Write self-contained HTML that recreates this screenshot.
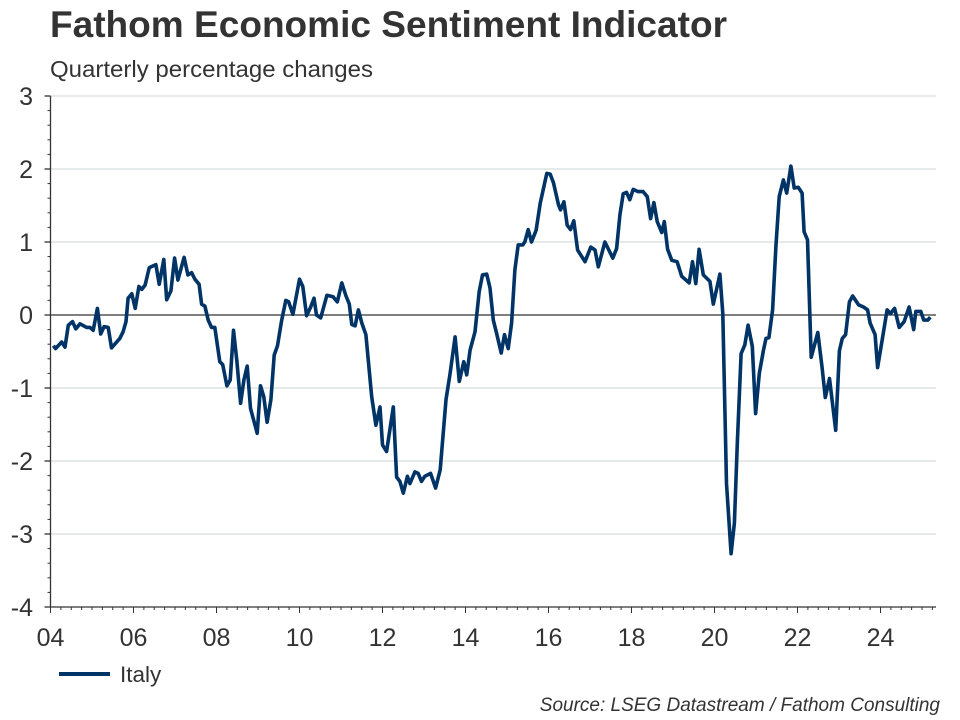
<!DOCTYPE html>
<html><head><meta charset="utf-8"><style>
body{margin:0;background:#fff;}
svg{display:block;font-family:"Liberation Sans",Arial,sans-serif;}
</style></head><body>
<svg width="960" height="720" viewBox="0 0 960 720">
<text x="50" y="37" font-size="37" font-weight="bold" fill="#333" textLength="677" lengthAdjust="spacingAndGlyphs">Fathom Economic Sentiment Indicator</text>
<text x="50" y="77" font-size="23" fill="#333" textLength="323" lengthAdjust="spacingAndGlyphs">Quarterly percentage changes</text>
<g id="grid"></g>
<g id="axes"></g>
<g id="series"></g>
<g>
<line x1="59" y1="674" x2="110" y2="674" stroke="#003366" stroke-width="4"/>
<text x="120" y="682" font-size="22.5" fill="#333">Italy</text>
</g>
<text x="940" y="711" font-size="19" font-style="italic" fill="#333" text-anchor="end">Source: LSEG Datastream / Fathom Consulting</text>
</svg>
<script>
const dates=[2004.07,2004.12,2004.27,2004.35,2004.43,2004.53,2004.61,2004.71,2004.87,2004.95,2005.03,2005.13,2005.21,2005.29,2005.39,2005.47,2005.67,2005.75,2005.82,2005.87,2005.96,2006.04,2006.13,2006.2,2006.28,2006.38,2006.54,2006.62,2006.73,2006.8,2006.9,2006.99,2007.07,2007.22,2007.31,2007.4,2007.48,2007.58,2007.64,2007.72,2007.8,2007.88,2007.96,2008.08,2008.15,2008.25,2008.33,2008.41,2008.49,2008.58,2008.66,2008.74,2008.82,2008.98,2009.06,2009.14,2009.22,2009.31,2009.39,2009.47,2009.57,2009.67,2009.74,2009.84,2010.0,2010.08,2010.17,2010.27,2010.35,2010.41,2010.51,2010.66,2010.81,2010.91,2011.02,2011.12,2011.2,2011.26,2011.34,2011.42,2011.5,2011.6,2011.74,2011.84,2011.94,2012.0,2012.1,2012.26,2012.34,2012.42,2012.5,2012.6,2012.66,2012.78,2012.86,2012.94,2013.02,2013.16,2013.28,2013.39,2013.53,2013.63,2013.75,2013.85,2013.96,2014.03,2014.11,2014.23,2014.33,2014.41,2014.51,2014.59,2014.67,2014.75,2014.86,2014.94,2015.03,2015.11,2015.19,2015.27,2015.38,2015.43,2015.51,2015.59,2015.7,2015.8,2015.96,2016.04,2016.12,2016.24,2016.29,2016.37,2016.45,2016.53,2016.61,2016.7,2016.88,2017.02,2017.12,2017.2,2017.36,2017.55,2017.64,2017.72,2017.8,2017.88,2017.96,2018.04,2018.16,2018.28,2018.38,2018.46,2018.54,2018.62,2018.73,2018.79,2018.87,2018.97,2019.1,2019.21,2019.39,2019.47,2019.55,2019.63,2019.73,2019.89,2019.97,2020.13,2020.2,2020.29,2020.4,2020.48,2020.55,2020.64,2020.73,2020.81,2020.91,2020.99,2021.08,2021.18,2021.24,2021.31,2021.4,2021.48,2021.56,2021.66,2021.74,2021.84,2021.92,2022.02,2022.11,2022.16,2022.24,2022.33,2022.49,2022.59,2022.67,2022.77,2022.92,2023.01,2023.08,2023.16,2023.25,2023.33,2023.47,2023.59,2023.69,2023.75,2023.87,2023.93,2024.04,2024.16,2024.24,2024.34,2024.45,2024.57,2024.69,2024.8,2024.85,2024.97,2025.04,2025.14,2025.2];
const italy=[-0.42,-0.46,-0.37,-0.44,-0.14,-0.09,-0.19,-0.12,-0.17,-0.17,-0.21,0.09,-0.26,-0.16,-0.17,-0.45,-0.32,-0.23,-0.09,0.23,0.29,0.09,0.39,0.35,0.41,0.65,0.69,0.42,0.76,0.21,0.33,0.78,0.48,0.79,0.55,0.58,0.49,0.42,0.15,0.12,-0.07,-0.17,-0.17,-0.64,-0.68,-0.97,-0.89,-0.21,-0.62,-1.21,-0.89,-0.70,-1.28,-1.62,-0.97,-1.12,-1.47,-1.16,-0.55,-0.42,-0.07,0.2,0.18,0.01,0.49,0.39,-0.01,0.11,0.23,0.0,-0.04,0.27,0.25,0.18,0.44,0.26,0.15,-0.13,-0.15,0.07,-0.11,-0.27,-1.12,-1.51,-1.26,-1.78,-1.87,-1.26,-2.22,-2.28,-2.44,-2.21,-2.31,-2.15,-2.17,-2.28,-2.21,-2.17,-2.37,-2.12,-1.16,-0.8,-0.3,-0.91,-0.64,-0.82,-0.48,-0.23,0.32,0.55,0.56,0.37,-0.07,-0.25,-0.52,-0.27,-0.46,-0.11,0.62,0.96,0.96,1.0,1.17,1.0,1.16,1.53,1.94,1.93,1.81,1.51,1.44,1.55,1.23,1.17,1.29,0.89,0.73,0.93,0.89,0.66,1.0,0.78,0.91,1.37,1.66,1.68,1.58,1.72,1.69,1.69,1.62,1.32,1.54,1.28,1.13,1.28,0.9,0.75,0.73,0.53,0.44,0.73,0.43,0.9,0.55,0.46,0.15,0.56,0.02,-2.31,-3.27,-2.85,-1.76,-0.53,-0.41,-0.14,-0.43,-1.35,-0.8,-0.48,-0.32,-0.31,0.07,0.94,1.62,1.85,1.67,2.04,1.74,1.75,1.67,1.14,1.03,-0.58,-0.24,-0.71,-1.13,-0.87,-1.58,-0.49,-0.32,-0.27,0.18,0.26,0.14,0.11,0.07,-0.11,-0.27,-0.72,-0.34,0.07,0.02,0.09,-0.17,-0.09,0.11,-0.2,0.05,0.05,-0.07,-0.07,-0.03];
const yTicks=[3,2,1,0,-1,-2,-3,-4];
const xTickYears=[2004,2006,2008,2010,2012,2014,2016,2018,2020,2022,2024];
const xTickLabels=["04","06","08","10","12","14","16","18","20","22","24"];

const NS="http://www.w3.org/2000/svg";
const X0=50.5,PXY=41.5,Y0=315,PXV=73,RIGHT=936;
const xs=t=>X0+(t-2004)*PXY;
const ys=v=>Y0-v*PXV;
function mk(tag,attrs,parent){const e=document.createElementNS(NS,tag);for(const k in attrs)e.setAttribute(k,attrs[k]);parent.appendChild(e);return e;}
const grid=document.getElementById('grid'),axes=document.getElementById('axes'),ser=document.getElementById('series');
yTicks.forEach(v=>{
  if(v!==0&&v!==-4){const l=mk('line',{x1:X0,x2:RIGHT,y1:ys(v),y2:ys(v),stroke:'#cfd4d4','stroke-width':1},grid);
  
  }
  const t=mk('text',{x:33,y:ys(v)+9,'font-size':25,fill:'#333','text-anchor':'end'},axes);
  t.textContent=String(v);
  
  
  mk('line',{x1:X0-6,x2:X0,y1:ys(v),y2:ys(v),stroke:'#333','stroke-width':1.3},axes);
});
for(let v=-4;v<3;v+=0.2){mk('line',{x1:X0-3,x2:X0,y1:ys(v),y2:ys(v),stroke:'#333','stroke-width':1},axes);}
const zl=mk('line',{x1:X0,x2:RIGHT,y1:ys(0),y2:ys(0),stroke:'#333','stroke-width':1.2},axes);


mk('line',{x1:X0,x2:X0,y1:ys(3),y2:ys(-4),stroke:'#333','stroke-width':1.3},axes);
mk('line',{x1:X0,x2:RIGHT,y1:ys(-4),y2:ys(-4),stroke:'#333','stroke-width':1.3},axes);
for(let q=0;q<=85;q++){const t=2004+q/4;if(xs(t)>RIGHT)break;const maj=(q%8===0);
  mk('line',{x1:xs(t),x2:xs(t),y1:ys(-4),y2:ys(-4)+(maj?6:3),stroke:'#333','stroke-width':1},axes);}
xTickYears.forEach((yr,i)=>{const t=mk('text',{x:xs(yr),y:646,'font-size':25,fill:'#333','text-anchor':'middle'},axes);
  t.textContent=xTickLabels[i];
  
  });
const d=dates.map((t,i)=>(i?'L':'M')+xs(t).toFixed(1)+' '+ys(italy[i]).toFixed(1)).join(' ');
const p=mk('path',{d:d,fill:'none',stroke:'#003366','stroke-width':3.6,'stroke-linejoin':'round'},ser);


</script>
</body></html>
